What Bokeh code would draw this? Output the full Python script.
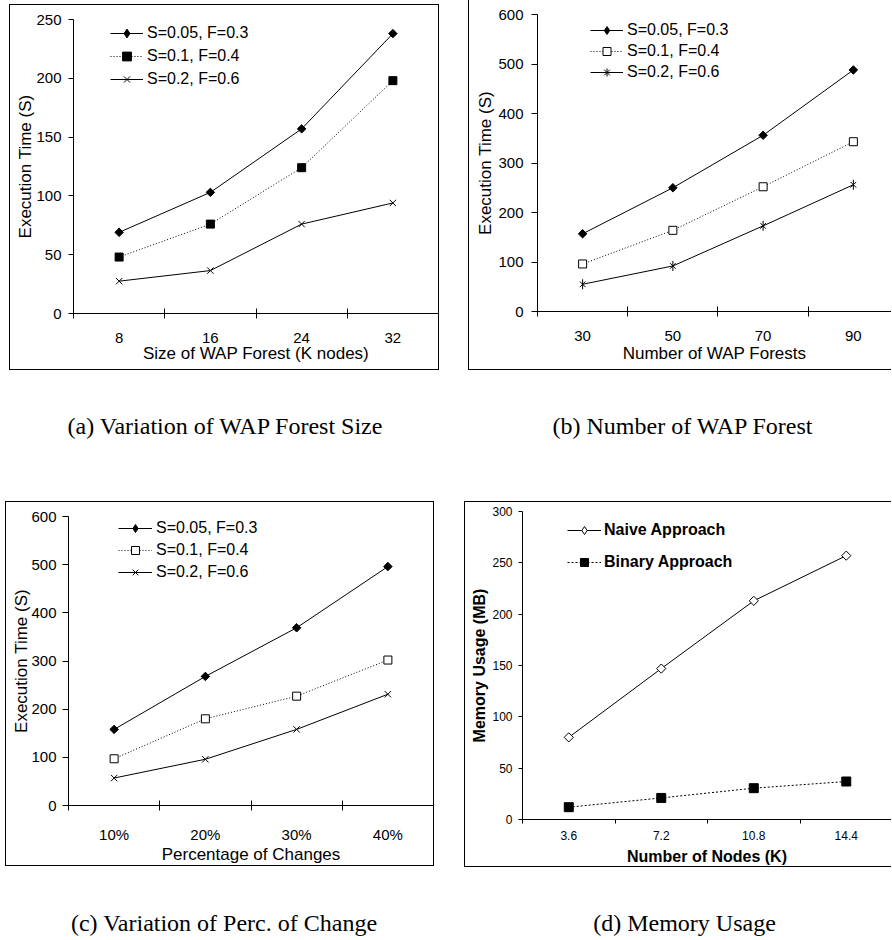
import math
from bokeh.plotting import figure
from bokeh.models import Range1d, FixedTicker, Legend, LegendItem, Spacer, Div
from bokeh.layouts import column, row
from bokeh.embed import file_html
from bokeh.resources import INLINE

SANS = "Liberation Sans"
SERIF = "Liberation Serif"

# ---------------- data ----------------
series_abc = ["S=0.05, F=0.3", "S=0.1, F=0.4", "S=0.2, F=0.6"]

a_x = [8, 16, 24, 32]
a_labels = ["8", "16", "24", "32"]
a_bounds = [4, 12, 20, 28, 36]
a_s005 = [69, 103, 157, 238]
a_s01 = [48, 76, 124, 198]
a_s02 = [27.5, 36.5, 76, 94]
a_yticks = [0, 50, 100, 150, 200, 250]

b_x = [30, 50, 70, 90]
b_labels = ["30", "50", "70", "90"]
b_bounds = [20, 40, 60, 80, 100]
b_s005 = [157, 250, 356, 488]
b_s01 = [96, 164, 252, 343]
b_s02 = [55, 92, 173, 256]
b_yticks = [0, 100, 200, 300, 400, 500, 600]

c_x = [10, 20, 30, 40]
c_labels = ["10%", "20%", "30%", "40%"]
c_bounds = [5, 15, 25, 35, 45]
c_s005 = [158, 268, 369, 496]
c_s01 = [97, 180, 227, 302]
c_s02 = [57, 96, 158, 231]
c_yticks = [0, 100, 200, 300, 400, 500, 600]

series_d = ["Naive Approach", "Binary Approach"]
d_x = [3.6, 7.2, 10.8, 14.4]
d_labels = ["3.6", "7.2", "10.8", "14.4"]
d_bounds = [1.8, 5.4, 9.0, 12.6, 16.2]
d_naive = [80, 147, 213, 257]
d_binary = [12, 21, 30.5, 37]
d_yticks = [0, 50, 100, 150, 200, 250, 300]

captions = ["(a) Variation of WAP Forest Size", "(b) Number of WAP Forest",
            "(c) Variation of Perc. of Change", "(d) Memory Usage"]

# ---------------- marker styles ----------------
K = "black"
DIAMOND = dict(marker="square", angle=math.pi / 4, size=6, fill_color=K, line_color=K, line_width=1)
DIAMOND_LEG = dict(marker="diamond", size=10, fill_color=K, line_color=K, line_width=1, visible=False)
SQUARE = dict(marker="square", size=8, fill_color=K, line_color=K, line_width=1)
OPEN_SQUARE = dict(marker="square", size=8, fill_color="white", line_color=K, line_width=1)
XMARK = dict(marker="x", size=9, line_color=K, line_width=1)
AST_X = dict(marker="x", size=8, line_color=K, line_width=1)
AST_V = dict(marker="dash", angle=math.pi / 2, size=10, line_color=K, line_width=1)
AST_LEG = dict(marker="cross", size=10, line_color=K, line_width=1, visible=False)
OPEN_DIAMOND = dict(marker="square", angle=math.pi / 4, size=6.5, fill_color="white", line_color=K, line_width=1)
OPEN_DIAMOND_LEG = dict(marker="diamond", size=10, fill_color="white", line_color=K, line_width=1, visible=False)
SQUARE_D = dict(marker="square", size=9, fill_color=K, line_color=K, line_width=1)


def make_panel(W, H, fl, ft, fw, fh, xr, yr, x_vals, x_labels, x_bounds, y_ticks,
               xlabel, ylabel, st, shadow):
    p = figure(width=W, height=H, x_range=Range1d(*xr), y_range=Range1d(*yr),
               output_backend="svg", toolbar_location=None,
               min_border_left=fl, min_border_top=ft,
               min_border_right=W - fl - fw, min_border_bottom=H - ft - fh,
               styles={"box-shadow": shadow})
    p.outline_line_color = None
    p.xgrid.visible = False
    p.ygrid.visible = False
    p.background_fill_color = None
    p.border_fill_color = None

    xa = p.xaxis[0]
    xa.ticker = FixedTicker(ticks=x_vals, minor_ticks=x_bounds)
    xa.major_label_overrides = {v: l for v, l in zip(x_vals, x_labels)}
    xa.major_tick_in = 0
    xa.major_tick_out = 0
    xa.minor_tick_in = st["xmin_in"]
    xa.minor_tick_out = st["xmin_out"]
    xa.minor_tick_line_color = K
    xa.axis_line_color = K
    xa.major_label_text_font = SANS
    xa.major_label_text_font_size = st["tick_fs"]
    xa.major_label_text_color = K
    xa.major_label_standoff = st["x_std"]
    xa.axis_label = xlabel
    xa.axis_label_text_font = SANS
    xa.axis_label_text_font_size = st["lab_fs"]
    xa.axis_label_text_font_style = st["lab_style"]
    xa.axis_label_text_color = K
    xa.axis_label_standoff = st["xl_std"]

    ya = p.yaxis[0]
    ya.ticker = FixedTicker(ticks=y_ticks)
    ya.major_tick_in = 0
    ya.major_tick_out = st["y_out"]
    ya.major_tick_line_color = K
    ya.minor_tick_line_color = None
    ya.axis_line_color = K
    ya.major_label_text_font = SANS
    ya.major_label_text_font_size = st["tick_fs"]
    ya.major_label_text_color = K
    ya.major_label_standoff = st["y_std"]
    ya.axis_label = ylabel
    ya.axis_label_text_font = SANS
    ya.axis_label_text_font_size = st["lab_fs"]
    ya.axis_label_text_font_style = st["lab_style"]
    ya.axis_label_text_color = K
    ya.axis_label_standoff = st["yl_std"]
    return p


def add_series(p, x, y, dash, markers, label, items, legend_only=()):
    rs = [p.line(x, y, line_color=K, line_width=1, line_dash=dash)]
    leg = [rs[0]]
    for m in markers:
        r = p.scatter(x, y, **m)
        if not legend_only:
            leg.append(r)
        elif m.get("marker") == "x":
            leg.append(r)
    for m in legend_only:
        leg.append(p.scatter(x, y, **m))
    items.append(LegendItem(label=label, renderers=leg))


def add_legend(p, items, loc, G, spacing, gw, standoff, style):
    lg = Legend(items=items, location=loc, glyph_width=gw, glyph_height=G, label_height=G,
                spacing=spacing, padding=0, margin=0, label_standoff=standoff,
                border_line_color=None, background_fill_alpha=0,
                label_text_font=SANS, label_text_font_size="16px",
                label_text_font_style=style, label_text_color=K)
    p.add_layout(lg)


def caption(text, w, h):
    html = ('<div style="display:block;width:%dpx;font-family:\'Liberation Serif\';font-size:24px;'
            'line-height:24px;text-align:center;padding-top:44px;margin:0;color:#000;'
            'white-space:nowrap;">%s</div>' % (w, text))
    return Div(text=html, width=w, height=h, margin=0)


ST_A = dict(xmin_in=5, xmin_out=5, tick_fs="15px", x_std=14, lab_fs="17px", lab_style="normal",
            xl_std=-2, y_out=5, y_std=7, yl_std=-2)
ST_B = dict(ST_A, x_std=14, xl_std=0, y_out=6, y_std=8, yl_std=0)
ST_C = dict(ST_A, x_std=15, xl_std=-1, y_out=6, y_std=6, yl_std=-3)
ST_D = dict(xmin_in=0, xmin_out=4, tick_fs="12px", x_std=7, lab_fs="16px", lab_style="bold",
            xl_std=5, y_out=4, y_std=6, yl_std=1)

BOX_ALL = "inset 0 0 0 1px #000"
BOX_B = "inset 1px 0 0 0 #000, inset 0 -1px 0 0 #000"
BOX_D = "inset 1px 0 0 0 #000, inset 0 1px 0 0 #000, inset 0 -1px 0 0 #000"

# ---------------- panel (a) ----------------
pa = make_panel(430, 366, 64, 15, 365, 294, (4, 36), (0, 250), a_x, a_labels, a_bounds, a_yticks,
                "Size of WAP Forest (K nodes)", "Execution Time (S)", ST_A, BOX_ALL)
items = []
add_series(pa, a_x, a_s005, "solid", [DIAMOND], series_abc[0], items, legend_only=[DIAMOND_LEG])
add_series(pa, a_x, a_s01, "1 2", [SQUARE], series_abc[1], items)
add_series(pa, a_x, a_s02, "solid", [XMARK], series_abc[2], items)
add_legend(pa, items, (37, 223), 22, 1, 33, 4, "normal")

# ---------------- panel (b) ----------------
pb = make_panel(423, 370, 69, 14, 354, 297, (20, 98.45), (0, 600), b_x, b_labels, b_bounds, b_yticks,
                "Number of WAP Forests", "Execution Time (S)", ST_B, BOX_B)
items = []
add_series(pb, b_x, b_s005, "solid", [DIAMOND], series_abc[0], items, legend_only=[DIAMOND_LEG])
add_series(pb, b_x, b_s01, "1 2", [OPEN_SQUARE], series_abc[1], items)
add_series(pb, b_x, b_s02, "solid", [AST_X, AST_V], series_abc[2], items, legend_only=[AST_LEG])
add_legend(pb, items, (53, 229), 20, 1, 33, 4, "normal")

# ---------------- panel (c) ----------------
pc = make_panel(429, 365, 63, 15, 365, 293, (5, 45), (0, 600), c_x, c_labels, c_bounds, c_yticks,
                "Percentage of Changes", "Execution Time (S)", ST_C, BOX_ALL)
items = []
add_series(pc, c_x, c_s005, "solid", [DIAMOND], series_abc[0], items, legend_only=[DIAMOND_LEG])
add_series(pc, c_x, c_s01, "1 2", [OPEN_SQUARE], series_abc[1], items)
add_series(pc, c_x, c_s02, "solid", [XMARK], series_abc[2], items)
add_legend(pc, items, (50, 223), 20, 2, 34, 4, "normal")

# ---------------- panel (d) ----------------
pd_ = make_panel(427, 366, 58, 10, 369, 308, (1.8, 16.16), (0, 300), d_x, d_labels, d_bounds, d_yticks,
                 "Number of Nodes (K)", "Memory Usage (MB)", ST_D, BOX_D)
items = []
add_series(pd_, d_x, d_naive, "solid", [OPEN_DIAMOND], series_d[0], items, legend_only=[OPEN_DIAMOND_LEG])
add_series(pd_, d_x, d_binary, "2 2", [SQUARE_D], series_d[1], items)
add_legend(pd_, items, (45, 247), 20, 12, 34, 3, "bold")

# ---------------- layout ----------------
top = row(Spacer(width=9, height=370),
          column(Spacer(width=430, height=4), pa),
          Spacer(width=29, height=370),
          column(pb))
cap1 = row(caption(captions[0], 450, 131), Spacer(width=24, height=131), caption(captions[1], 417, 131))
bottom = row(Spacer(width=5, height=366),
             column(pc, Spacer(width=429, height=1)),
             Spacer(width=30, height=366),
             column(pd_))
cap2 = row(caption(captions[2], 448, 70), Spacer(width=30, height=70), caption(captions[3], 413, 70))

layout = column(top, cap1, bottom, cap2)
open("out.html", "w").write(file_html(layout, INLINE))
